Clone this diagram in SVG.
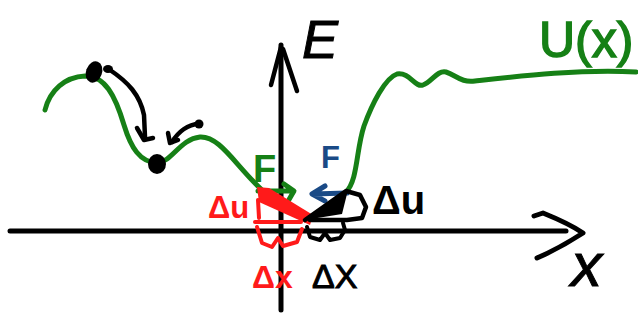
<svg xmlns="http://www.w3.org/2000/svg" width="638" height="322" viewBox="0 0 638 322">
<style>
.k{fill:none;stroke:#000;stroke-linecap:round;stroke-linejoin:round}
.g{fill:none;stroke:#168016;stroke-linecap:round;stroke-linejoin:round}
.r{fill:none;stroke:#ff1a1a;stroke-linecap:round;stroke-linejoin:round}
.b{fill:none;stroke:#1a4a86;stroke-linecap:round;stroke-linejoin:round}
.t{font-family:"Liberation Sans",Arial,sans-serif}
</style>
<rect width="638" height="322" fill="#fff"/>
<g id="axes">
<path class="k" stroke-width="5" d="M10,231 L566,231"/>
<path class="k" stroke-width="5" d="M534,216 L543,213 Q570,224 583,233 Q560,248 537,258"/>
<path class="k" stroke-width="5" d="M281,310 L281,45"/>
<path class="k" stroke-width="4.5" d="M281,47 L271,85 M283,49 L297,91"/>
</g>
<g id="potential-curve">
<path class="g" stroke-width="5" d="M45,110 C50,90 65,77 85,76 C105,76 115,95 124,125 C131,148 140,162 157,163 C172,162 180,139 200,137 C220,136 235,165 262,190 L304,219"/>
<path class="g" stroke-width="5" d="M346,192 C358,180 356,150 364,126 C372,104 385,78 397,74 C410,72 415,88 423,85 C432,82 437,70 446,72 C456,75 461,83 475,81 C520,76 580,69 636,72"/>
</g>
<g id="states">
<ellipse cx="94" cy="72" rx="8" ry="11" transform="rotate(20 94 72)" fill="#000"/>
<ellipse cx="108" cy="69" rx="5" ry="4" fill="#000"/>
<ellipse cx="157" cy="164" rx="9" ry="10" fill="#000"/>
<circle cx="199" cy="124" r="4.5" fill="#000"/>
</g>
<g id="connectors">
<path class="k" stroke-width="4.5" d="M110,70 C128,82 140,95 144,115 L145,137"/>
<path class="k" stroke-width="4.5" d="M137,128 L144,140 L153,138"/>
<path class="k" stroke-width="4.5" d="M199,124 C188,124 178,132 172,142"/>
<path class="k" stroke-width="4.5" d="M168,133 L170,143 L178,140"/>
<path class="g" stroke-width="5" d="M258,191 L292,191 M284,184 L294,191 L287,203"/>
<path class="b" stroke-width="5" d="M347,193 L313,194 M325,186 L312,194 L325,201"/>
</g>
<g id="red-deltas">
<polygon points="257,187 269,188 313,215 310,225 259,202" fill="#ff1a1a"/>
<path class="r" stroke-width="4" d="M258,200 L259,218 M255,222 L301,222"/>
<path class="r" stroke-width="4" d="M257,227 L262,243 L272,247 L278,238 L283,246 L297,242 L302,229"/>
</g>
<g id="black-deltas">
<polygon points="305,220 348,190 342,214" fill="#000"/>
<path class="k" stroke-width="4.5" d="M305,220 L346,191 L360,195 L366,207 L362,218 L347,220 L310,220"/>
<path class="k" stroke-width="4" d="M307,227 L310,237 L320,240 L325,233 L330,240 L340,238 L345,230 L343,223"/>
</g>
<g id="labels" class="t">
<text x="302" y="58" font-size="54" font-style="italic" fill="#000" stroke="#000" stroke-width="1">E</text>
<text x="539" y="57" font-size="50" fill="#168016" stroke="#168016" stroke-width="1.5">U(x)</text>
<text x="571" y="286" font-size="62" font-style="italic" fill="#000" stroke="#000" stroke-width="1">x</text>
<text x="253" y="182" font-size="38" font-weight="bold" fill="#168016">F</text>
<text x="321" y="168" font-size="31" font-weight="bold" fill="#1a4a86">F</text>
<text x="208" y="218" font-size="31" font-weight="bold" fill="#ff1a1a">Δu</text>
<text x="252" y="288" font-size="32" font-weight="bold" fill="#ff1a1a">Δx</text>
<text x="372" y="214" font-size="40" font-weight="bold" fill="#000">Δu</text>
<text x="312" y="288" font-size="34" fill="#000" stroke="#000" stroke-width="1">ΔX</text>
</g>
</svg>
